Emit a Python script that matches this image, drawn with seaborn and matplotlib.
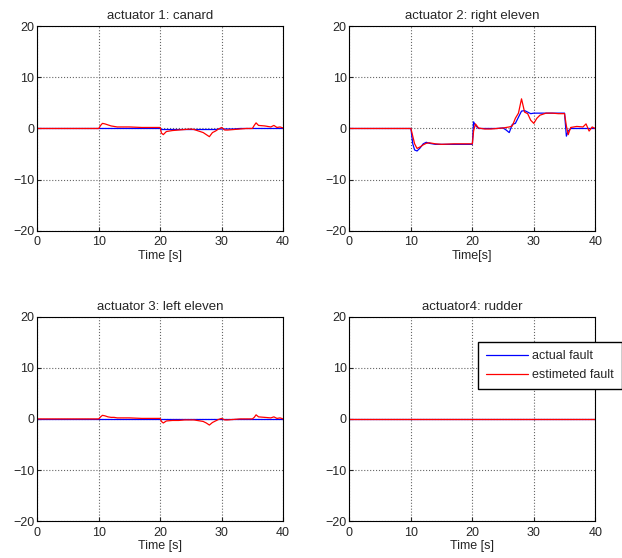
import pandas as pd
import seaborn as sns
import matplotlib.pyplot as plt

# time grid (s) and fault values
t = [0, 10, 10.3, 10.6, 11, 11.5, 12, 12.5, 13, 14, 15, 17, 20, 20.2, 20.5, 21, 22, 23, 24, 25,
     25.5, 26, 26.5, 27, 27.5, 28, 28.5, 29, 29.5, 30, 30.5, 31, 32, 33, 34, 35, 35.3, 35.6,
     36, 37, 38, 38.5, 39, 39.5, 40]

act1_true = [0, 0, 0, 0, 0, 0, 0, 0, 0, 0, 0, 0, 0, -0.2, -0.2, -0.2, -0.2, -0.2, -0.2, -0.2,
             -0.2, -0.2, -0.2, -0.2, -0.2, -0.2, -0.2, -0.2, -0.1, -0.1, -0.1, -0.1, -0.1, 0, 0, 0, 0, 0,
             0, 0, 0, 0, 0, 0, 0]
act1_est = [0, 0, 0.6, 1.0, 0.9, 0.7, 0.5, 0.4, 0.3, 0.3, 0.3, 0.2, 0.2, -0.9, -1.2, -0.6, -0.4, -0.3, -0.2, -0.1,
            -0.2, -0.4, -0.6, -0.8, -1.2, -1.6, -0.8, -0.5, -0.1, 0.2, -0.3, -0.3, -0.2, -0.1, 0, 0, 0.6, 1.1,
            0.6, 0.5, 0.3, 0.6, 0.2, 0.3, 0.1]

act2_true = [0, 0, -3.0, -4.2, -4.4, -3.8, -3.0, -2.7, -2.9, -3.1, -3.1, -3.1, -3.1, 1.3, 0.6, 0, 0, 0, 0, 0.1,
             -0.3, -0.8, 0.8, 1.0, 2.2, 3.4, 3.5, 3.2, 2.9, 3.0, 3.0, 3.0, 3.0, 3.0, 3.0, 3.0, -1.5, -0.5,
             0, 0, 0, 0, 0, 0, 0]
act2_est = [0, 0, -1.5, -3.0, -3.9, -3.6, -3.2, -2.9, -2.8, -3.0, -3.1, -3.0, -3.0, -0.5, 0.9, 0.1, -0.1, -0.1, 0, 0.1,
            0.2, 0.3, 0.5, 2.0, 3.0, 5.8, 3.2, 2.9, 1.6, 1.0, 2.0, 2.6, 3.0, 3.0, 2.9, 2.9, 0.5, -1.2,
            0.2, 0.4, 0.3, 0.9, -0.5, 0.3, 0]

act3_true = [0] * len(t)
act3_est = [0, 0, 0.4, 0.7, 0.6, 0.4, 0.3, 0.3, 0.2, 0.2, 0.2, 0.1, 0.1, -0.5, -0.8, -0.4, -0.3, -0.3, -0.2, -0.2,
            -0.2, -0.3, -0.4, -0.5, -0.8, -1.2, -0.7, -0.4, -0.1, 0.1, -0.2, -0.2, -0.1, 0, 0, 0, 0.3, 0.8,
            0.4, 0.3, 0.2, 0.4, 0.1, 0.2, 0]

act4_true = [0] * len(t)
act4_est = [0] * len(t)

titles = ["actuator 1: canard", "actuator 2: right eleven", "actuator 3: left eleven", "actuator4: rudder"]
xlabels = ["Time [s]", "Time[s]", "Time [s]", "Time [s]"]
series = [(act1_true, act1_est), (act2_true, act2_est), (act3_true, act3_est), (act4_true, act4_est)]

sns.set_style("ticks")
plt.rcParams["font.family"] = ["Liberation Sans", "DejaVu Sans"]
plt.rcParams["font.size"] = 9

fig, axes = plt.subplots(2, 2, figsize=(6.22, 5.58), dpi=100)
fig.subplots_adjust(left=0.06, right=0.957, top=0.953, bottom=0.066, wspace=0.27, hspace=0.42)

for ax, title, xl, (tr, es) in zip(axes.flat, titles, xlabels, series):
    df = pd.DataFrame({"t": t + t,
                       "value": tr + es,
                       "kind": ["actual fault"] * len(t) + ["estimeted fault"] * len(t)})
    sns.lineplot(data=df, x="t", y="value", hue="kind", palette=["blue", "red"],
                 linewidth=0.9, ax=ax, legend=(title == "actuator4: rudder"))
    ax.set_xlim(0, 40)
    ax.set_ylim(-20, 20)
    ax.set_xticks([0, 10, 20, 30, 40])
    ax.set_yticks([-20, -10, 0, 10, 20])
    ax.set_yticklabels(["\u221220", "\u221210", "0", "10", "20"])
    ax.grid(True, linestyle=":", color="0.4", linewidth=0.8)
    ax.tick_params(direction="in", length=3, labelsize=9, pad=2)
    ax.tick_params(axis="x", pad=4)
    ax.set_title(title, fontsize=9.5, pad=5)
    ax.set_xlabel(xl, fontsize=9, labelpad=1)
    ax.set_ylabel("")
    for s in ax.spines.values():
        s.set_linewidth(0.8)
        s.set_color("black")

leg_ax = axes[1, 1]
handles, labels = leg_ax.get_legend_handles_labels()
leg_ax.legend(handles, labels, loc="upper right", bbox_to_anchor=(1.108, 0.875),
              frameon=True, fancybox=False, edgecolor="black", fontsize=9,
              handlelength=3.4, handletextpad=0.3, borderpad=0.65, labelspacing=0.55,
              borderaxespad=0, framealpha=1)

plt.savefig("out.png", dpi=100)
